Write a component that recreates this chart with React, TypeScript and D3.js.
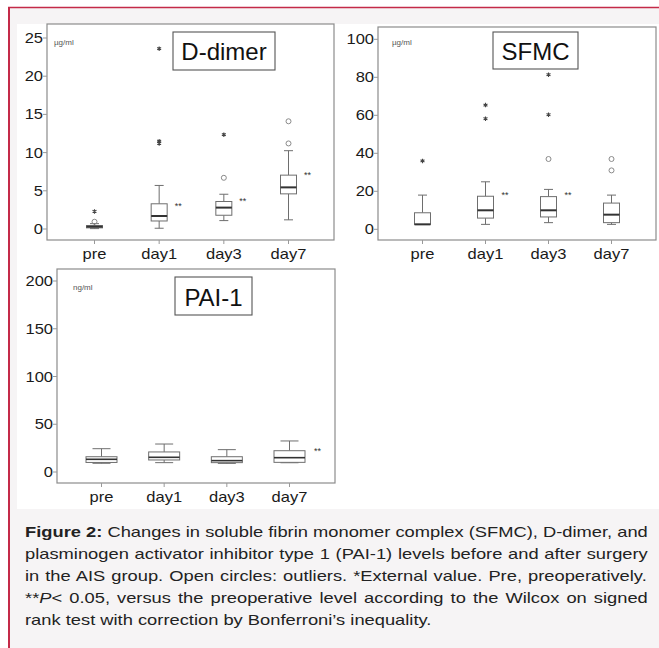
import React from "react";
import * as d3 from "d3";

const categories = ["pre", "day1", "day3", "day7"];

// D-dimer, µg/ml
const ddLow = [0.05, 0.1, 1.1, 1.2];
const ddQ1 = [0.15, 1.05, 1.8, 4.6];
const ddMedian = [0.3, 1.7, 2.8, 5.45];
const ddQ3 = [0.45, 3.3, 3.6, 7.05];
const ddHigh = [0.7, 5.7, 4.55, 10.25];
const ddOutliers = [[0.95], [], [6.7], [11.2, 14.1]];
const ddExtremes = [[2.3], [11.2, 11.5, 23.6], [12.35], []];
const ddSig = [null, 3.3, 3.9, 7.3];
const ddTicks = [0, 5, 10, 15, 20, 25];

// SFMC, µg/ml
const sfLow = [2.6, 2.6, 3.5, 2.6];
const sfQ1 = [2.6, 5.9, 6.5, 3.5];
const sfMedian = [2.6, 10, 10, 7.7];
const sfQ3 = [8.7, 17.4, 17.2, 13.8];
const sfHigh = [18, 25, 21, 18];
const sfOutliers = [[], [], [37], [31, 37]];
const sfExtremes = [[36], [58.2, 65.4], [60.3, 81.4], []];
const sfSig = [null, 19.3, 19, null];
const sfTicks = [0, 20, 40, 60, 80, 100];

// PAI-1, ng/ml
const paiLow = [9.1, 9.8, 9.0, 9.7];
const paiQ1 = [10, 12.6, 9.8, 10.1];
const paiMedian = [13.3, 15.4, 11.9, 15];
const paiQ3 = [16, 21, 16, 22.3];
const paiHigh = [24.4, 29.3, 23.4, 32.5];
const paiOutliers = [[], [], [], []];
const paiExtremes = [[], [], [], []];
const paiSig = [null, null, null, 24.4];
const paiTicks = [0, 50, 100, 150, 200];

const captionLines = [
  [{ t: "Figure 2:", b: true }, { t: " Changes in soluble fibrin monomer complex (SFMC), D-dimer, and" }],
  [{ t: "plasminogen activator inhibitor type 1 (PAI-1) levels before and after surgery" }],
  [{ t: "in the AIS group. Open circles: outliers. *External value. Pre, preoperatively." }],
  [{ t: "**" }, { t: "P", i: true }, { t: "< 0.05, versus the preoperative level according to the Wilcox on signed" }],
  [{ t: "rank test with correction by Bonferroni\u2019s inequality." }],
];

const FONT = "'Liberation Sans', Arial, sans-serif";
const red = "#c42a48";

const build = (low, q1, med, q3, high, outl, ext, sig) =>
  categories.map((c, i) => ({
    cat: c, low: low[i], q1: q1[i], med: med[i], q3: q3[i], high: high[i],
    outliers: outl[i], extremes: ext[i], sig: sig[i],
  }));

const panels = [
  {
    title: "D-dimer", unit: "\u00b5g/ml", ticks: ddTicks, domain: [0, 25],
    stats: build(ddLow, ddQ1, ddMedian, ddQ3, ddHigh, ddOutliers, ddExtremes, ddSig),
    frame: { l: 47, r: 334, t: 24, b: 240 }, yRange: [229, 38], xRange: [94.5, 288.5],
    boxW: 16, capW: 9, medW: 2, sigDx: 19,
    tbox: { x: 173, y: 32, w: 102, h: 38, base: 60 }, unitAt: [54, 45],
  },
  {
    title: "SFMC", unit: "\u00b5g/ml", ticks: sfTicks, domain: [0, 100],
    stats: build(sfLow, sfQ1, sfMedian, sfQ3, sfHigh, sfOutliers, sfExtremes, sfSig),
    frame: { l: 378, r: 656, t: 27, b: 240 }, yRange: [229.3, 39.3], xRange: [422.5, 611.5],
    boxW: 16, capW: 9, medW: 2, sigDx: 19.5,
    tbox: { x: 493, y: 32, w: 85, h: 37, base: 60 }, unitAt: [392, 45],
  },
  {
    title: "PAI-1", unit: "ng/ml", ticks: paiTicks, domain: [0, 200],
    stats: build(paiLow, paiQ1, paiMedian, paiQ3, paiHigh, paiOutliers, paiExtremes, paiSig),
    frame: { l: 57, r: 335, t: 269, b: 483 }, yRange: [472, 281], xRange: [101.5, 289.5],
    boxW: 31, capW: 18, medW: 1.6, sigDx: 28,
    tbox: { x: 175, y: 277, w: 77, h: 38, base: 305.5 }, unitAt: [73, 290],
  },
];

const asterisk = d3.symbol().type(d3.symbolAsterisk).size(14)();

function Panel({ p }) {
  const x = d3.scalePoint().domain(categories).range(p.xRange);
  const y = d3.scaleLinear().domain(p.domain).range(p.yRange);
  const f = p.frame;
  return (
    <g>
      <rect x={f.l} y={f.t} width={f.r - f.l} height={f.b - f.t} fill="#fff" stroke="#8c8c8c" strokeWidth={1.2} />
      {p.ticks.map(t => (
        <g key={t}>
          <line x1={f.l - 4} x2={f.l} y1={y(t)} y2={y(t)} stroke="#999" />
          <text transform={`translate(${f.l - 4},${y(t) + 5}) scale(1.18,1)`} textAnchor="end" fontSize={14} fill="#1a1a1a">{t}</text>
        </g>
      ))}
      {categories.map(c => (
        <g key={c}>
          <line x1={x(c)} x2={x(c)} y1={f.b} y2={f.b + 4} stroke="#999" />
          <text transform={`translate(${x(c)},${f.b + 19}) scale(1.18,1)`} textAnchor="middle" fontSize={14} fill="#1a1a1a">{c}</text>
        </g>
      ))}
      {p.stats.map(s => {
        const cx = x(s.cat);
        return (
          <g key={s.cat} stroke="#6e6e6e" strokeWidth={1}>
            <line x1={cx} x2={cx} y1={y(s.high)} y2={y(s.q3)} />
            <line x1={cx} x2={cx} y1={y(s.q1)} y2={y(s.low)} />
            <line x1={cx - p.capW / 2} x2={cx + p.capW / 2} y1={y(s.high)} y2={y(s.high)} />
            <line x1={cx - p.capW / 2} x2={cx + p.capW / 2} y1={y(s.low)} y2={y(s.low)} />
            <rect x={cx - p.boxW / 2} y={y(s.q3)} width={p.boxW} height={Math.max(1, y(s.q1) - y(s.q3))} fill="#fff" />
            <line x1={cx - p.boxW / 2} x2={cx + p.boxW / 2} y1={y(s.med)} y2={y(s.med)} stroke="#333" strokeWidth={p.medW} />
            {s.outliers.map((v, k) => (
              <circle key={"o" + k} cx={cx} cy={y(v)} r={2.5} fill="none" stroke="#8a8a8a" />
            ))}
            {s.extremes.map((v, k) => (
              <path key={"e" + k} d={asterisk} transform={`translate(${cx},${y(v)})`} stroke="#444" strokeWidth={1.1} fill="none" />
            ))}
            {s.sig != null && (
              <text x={cx + p.sigDx} y={y(s.sig) + 5} fontSize={9} fill="#333" stroke="none" textAnchor="middle">**</text>
            )}
          </g>
        );
      })}
      <text x={p.unitAt[0]} y={p.unitAt[1]} fontSize={8} fill="#555">{p.unit}</text>
      <rect x={p.tbox.x} y={p.tbox.y} width={p.tbox.w} height={p.tbox.h} fill="#fff" stroke="#555" strokeWidth={1.1} />
      <text x={p.tbox.x + p.tbox.w / 2} y={p.tbox.base} textAnchor="middle" fontSize={24} fill="#111">{p.title}</text>
    </g>
  );
}

let ctx = null;
function measure(txt, font) {
  if (!ctx) ctx = document.createElement("canvas").getContext("2d");
  ctx.font = font;
  return ctx.measureText(txt).width;
}

function Caption() {
  const size = 15;
  const left = 25, right = 648, top = 537, lead = 22;
  const fontOf = s => `${s.i ? "italic " : ""}${s.b ? "bold " : ""}${size}px ${FONT}`;
  const natural = captionLines.map(line => d3.sum(line, s => measure(s.t, fontOf(s))));
  const sx = (right - left) / natural[0];
  return (
    <g>
      {captionLines.map((line, li) => {
        const justify = li < captionLines.length - 1;
        const spaces = d3.sum(line, s => (s.t.match(/ /g) || []).length);
        const ws = justify ? ((right - left) / sx - natural[li]) / spaces : 0;
        return (
          <text key={li} transform={`translate(${left},${top + li * lead}) scale(${sx},1)`} fontSize={size} fill="#222" style={{ wordSpacing: `${ws}px`, whiteSpace: "pre" }}>
            {line.map((s, k) => (
              <tspan key={k} fontWeight={s.b ? "bold" : "normal"} fontStyle={s.i ? "italic" : "normal"}>{s.t}</tspan>
            ))}
          </text>
        );
      })}
    </g>
  );
}

export default function App() {
  return (
    <div style={{ position: "absolute", left: 0, top: 0 }}>
      <svg width={659} height={648} style={{ display: "block", fontFamily: FONT }}>
        <rect width={659} height={648} fill="#fff" />
        <rect x={9} y={7} width={650} height={641} fill="#f6f4f5" />
        <rect x={17} y={24} width={642} height={485} fill="#fff" />
        <line x1={8} x2={659} y1={7.5} y2={7.5} stroke={red} strokeWidth={1.5} />
        <line x1={9} x2={9} y1={7} y2={648} stroke={red} strokeWidth={2} />
        {panels.map(p => <Panel key={p.title} p={p} />)}
        <Caption />
      </svg>
    </div>
  );
}
